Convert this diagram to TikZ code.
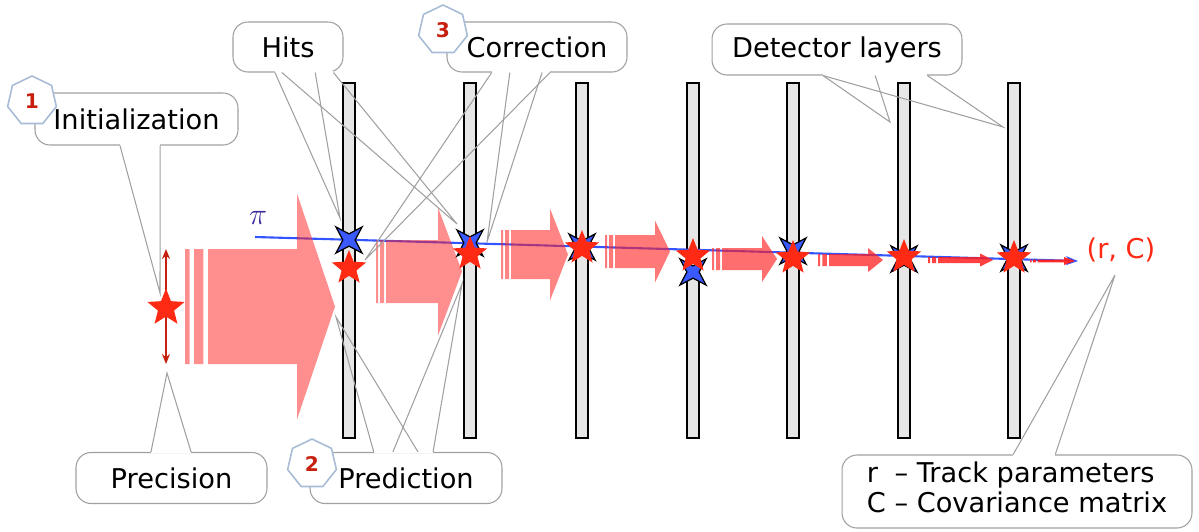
\documentclass[tikz,border=0pt]{standalone}
\usepackage{fontspec}
\setmainfont{DejaVu Sans}
\usetikzlibrary{arrows.meta,positioning,shapes.geometric,calc}
\definecolor{trackblue}{HTML}{3355FF}
\definecolor{hitblue}{HTML}{3A5AFF}
\definecolor{estred}{HTML}{FF2A14}
\definecolor{arrowred}{HTML}{FF2020}
\definecolor{darkred}{HTML}{C8200E}
\definecolor{boxgray}{HTML}{A0A0A0}
\definecolor{badgeblue}{HTML}{A8BCD6}
\definecolor{pidark}{HTML}{3A2A9A}
\definecolor{layerfill}{HTML}{E6E6E6}

\begin{document}
\begin{tikzpicture}[x=0.02cm,y=-0.02cm,callout/.style={draw=boxgray,line width=0.6pt,fill=white,rounded corners=0.3cm,font=\fontsize{15.5}{17}\selectfont,inner sep=0pt},badge/.style={regular polygon,regular polygon sides=7,draw=badgeblue,line width=0.9pt,fill=white,minimum size=1cm,inner sep=0pt,text=darkred,font=\fontsize{11.5}{12}\selectfont\bfseries},layer/.style={draw=black,line width=1.1pt,fill=layerfill,minimum width=0.24cm,minimum height=7.1cm,inner sep=0pt},hit/.style={star,star points=4,star point ratio=3,rotate=45,draw=black,line width=0.7pt,fill=hitblue,minimum size=0.74cm,inner sep=0pt},est/.style={star,star points=5,star point ratio=2.3,fill=estred,minimum size=0.72cm,inner sep=0pt},ptr/.style={draw=boxgray,line width=0.6pt},gap/.style={draw=white,line width=1.6pt},track/.style={draw=trackblue,line width=1.2pt,-{Stealth[length=2.4mm,width=1.8mm]}}]
\useasboundingbox (0,0) rectangle (1199,531);
% detector layers
\foreach \x [count=\i] in {349,470,582,693,793,904,1014}
  \node[layer] (L\i) at (\x,260.5) {};
% true track
\coordinate (pistart) at (255,237);\coordinate (piend) at (1078,261);
\draw[track] (pistart)--(piend);
% estimate arrows, shrinking along the track
\foreach \xs/\xh/\xt/\yc/\bh/\hh/\s/\op in {185/297/335/306.5/57.5/113/4.6/0.5,376/438/462/271.5/31.5/64/2/0.5,501/550/568/254.5/24.5/46/2/0.55,605/655/670/251.5/16.5/31/2/0.6,712/762/777/259/11/23/2/0.65,818/868/883/260/6/12/2.2/0.75,928/980/993/260/3/6.5/2/0.85,1030/1064/1075/261/1.3/4/1.5/0.95}{
  \fill[arrowred,opacity=\op] (\xs,\yc-\bh) rectangle (\xs+\s,\yc+\bh) (\xs+2*\s,\yc-\bh) rectangle (\xs+4*\s,\yc+\bh)
    (\xs+5*\s,\yc-\bh)--(\xh,\yc-\bh)--(\xh,\yc-\hh)--(\xt,\yc)--(\xh,\yc+\hh)--(\xh,\yc+\bh)--(\xs+5*\s,\yc+\bh)--cycle;
}
% initial estimate
\coordinate (prectop) at (166,249);\coordinate (precbot) at (166,364);
\draw[darkred,line width=1pt,{Stealth[length=2mm,width=1.6mm]}-{Stealth[length=2mm,width=1.6mm]}] (prectop)--(precbot);
\node[est,minimum size=0.78cm] (s0) at (166,308) {};
% hits and filtered estimates
\foreach \x/\y [count=\i] in {349/240,470/243,582/247,693/272,793/251,904/259,1014/258}
  \node[hit] (h\i) at (\x,\y) {};
\foreach \x/\y [count=\i] in {349/268,470/254,582/248,693/256,793/258,904/257,1014/258}
  \node[est] (s\i) at (\x,\y) {};
% callouts
\node[callout,minimum width=4.06cm,minimum height=1.04cm] (init) at (136.5,119) {Initialization};
\node[callout,minimum width=2.2cm,minimum height=1cm] (hits) at (288,47) {Hits};
\node[callout,minimum width=3.6cm,minimum height=1cm] (corr) at (537,47) {Correction};
\node[callout,minimum width=5cm,minimum height=1.02cm] (det) at (837,49.5) {Detector layers};
\node[callout,minimum width=3.82cm,minimum height=1.02cm] (prec) at (171.5,478) {Precision};
\node[callout,minimum width=3.84cm,minimum height=1.02cm] (pred) at (406,478) {Prediction};
\node[callout,minimum width=7cm,minimum height=1.46cm] (legend) at (1017,491.5) {\begin{tabular}{@{}l@{ }l@{}}r&– Track parameters\\C&– Covariance matrix\end{tabular}};
\coordinate (tinit) at (160,293);\coordinate (th1) at (340,218);\coordinate (th2) at (457,224);
\coordinate (tc1) at (365,260);\coordinate (tc2) at (487,242);
\coordinate (td1) at (890,122);\coordinate (td2) at (1003,127);
\coordinate (tprec) at (167,373);\coordinate (tp1) at (336,317);\coordinate (tp2) at (462,284);
\coordinate (tleg) at (1115,275);
\def\wedges{init.south west/init.south east/0.419/0.616/tinit,hits.south west/hits.south east/0.382/0.745/th1,hits.south west/hits.south east/0.445/0.909/th2,corr.south west/corr.south east/0.25/0.572/tc1,corr.south west/corr.south east/0.35/0.528/tc2,det.south west/det.south east/0.444/0.652/td1,det.south west/det.south east/0.444/0.86/td2,prec.north west/prec.north east/0.393/0.602/tprec,pred.north west/pred.north east/0.333/0.5625/tp1,pred.north west/pred.north east/0.432/0.64/tp2,legend.north west/legend.north east/0.489/0.609/tleg}
\foreach \p/\q/\f/\g/\t in \wedges
  \draw[gap] ($(\p)!\f!(\q)$)--($(\p)!\g!(\q)$);
\foreach \p/\q/\f/\g/\t in \wedges
  \draw[ptr] ($(\p)!\f!(\q)$)--(\t)--($(\p)!\g!(\q)$);
% step badges
\node[badge] (b1) at (32,101) {1};
\node[badge] (b2) at (312,464) {2};
\node[badge] (b3) at (443,30) {3};
\node[text=pidark,font=\fontsize{17}{17}\selectfont] (pi) at (258,218) {$\pi$};
\node[text=estred,font=\fontsize{15.5}{17}\selectfont] (rc) at (1121,250) {(r, C)};
\end{tikzpicture}
\end{document}
